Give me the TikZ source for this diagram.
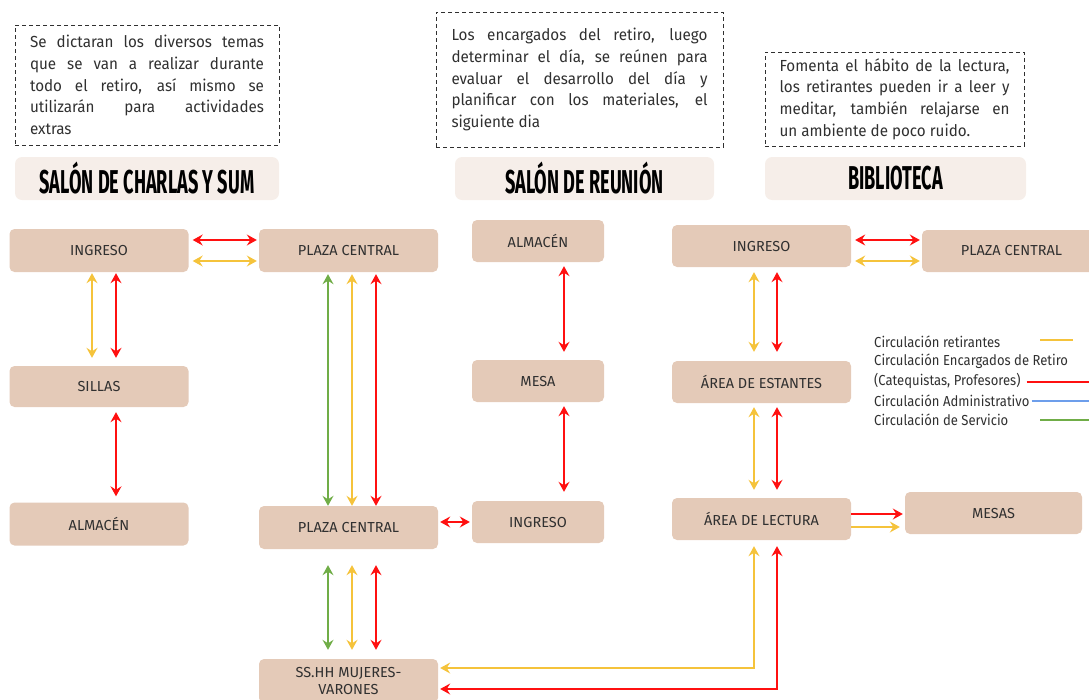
\documentclass[tikz,border=0pt]{standalone}
\usepackage{fontspec}
\setmainfont{Fira Sans}
\newfontfamily\titlefont{Fira Sans}[FakeStretch=0.55]
\newfontfamily\notefont{Fira Sans}[FakeStretch=0.95]
\newfontfamily\legfont{Fira Sans}[FakeStretch=0.9]
\usetikzlibrary{arrows.meta,calc}
\definecolor{nodefill}{HTML}{E4CAB8}
\definecolor{titlefill}{HTML}{F6EEE9}
\definecolor{txt}{HTML}{303030}
\definecolor{cyel}{HTML}{F5C33B}
\definecolor{cred}{HTML}{FF1010}
\definecolor{cgrn}{HTML}{70AD47}
\definecolor{cblu}{HTML}{6D9EEB}
\begin{document}
\begin{tikzpicture}[x=1pt,y=-1pt,
  area/.style={rounded corners=5pt, fill=nodefill, text=txt, font=\fontsize{14.5}{17}\selectfont, minimum height=43pt, minimum width=179pt, inner sep=0pt, align=center},
  titlebox/.style={rounded corners=7pt, fill=titlefill, text=black, font=\titlefont\bfseries\fontsize{33}{34}\selectfont, minimum height=43pt, inner sep=0pt},
  note/.style={draw=txt, dash pattern=on 4pt off 3pt, line width=0.9pt, text=txt, font=\notefont\fontsize{16}{21.8}\selectfont, align=justify, inner ysep=0pt},
  legend/.style={anchor=west, inner sep=0pt, text=txt, font=\legfont\fontsize{14.5}{16}\selectfont},
  tip/.tip={Stealth[length=10pt,width=11pt,inset=3.5pt]},
  flow/.style={line width=1.1pt, tip-tip},
  oneway/.style={line width=1.1pt, -tip},
  sample/.style={line width=2.6pt}
]
\useasboundingbox (0,0) rectangle (1089,699);
\clip (0,0) rectangle (1089,699);

% notes
\node[note, text width=234pt, inner xsep=15pt, minimum height=120pt] (n1) at (147,85)
 {Se dictaran los diversos temas\linebreak que se van a realizar durante\linebreak todo el retiro, así mismo se\linebreak utilizarán para actividades\linebreak extras};
\node[note, text width=256pt, inner xsep=15.5pt, minimum height=135pt] (n2) at (579.5,79.5)
 {Los encargados del retiro, luego\linebreak determinar el día, se reúnen para\linebreak evaluar el desarrollo del día y\linebreak planificar con los materiales, el\linebreak siguiente dia};
\node[note, text width=230pt, inner xsep=14.5pt, minimum height=94pt] (n3) at (894.5,99)
 {Fomenta el hábito de la lectura,\linebreak los retirantes pueden ir a leer y\linebreak meditar, también relajarse en\linebreak un ambiente de poco ruido.};

% titles
\node[titlebox, minimum width=264pt] (t1) at (147,178.5) {SALÓN DE CHARLAS Y SUM};
\node[titlebox, minimum width=259pt] (t2) at (584.5,178.5) {SALÓN DE REUNIÓN};
\node[titlebox, minimum width=261pt] (t3) at (895.5,178.5) {BIBLIOTECA};

% areas
\node[area] (ing1) at (99,250.5) {INGRESO};
\node[area] (pc1) at (348.5,250.5) {PLAZA CENTRAL};
\node[area, minimum height=41pt] (sillas) at (99,386.5) {SILLAS};
\node[area] (alm1) at (99,524) {ALMACÉN};
\node[area] (pc2) at (348.5,527.5) {PLAZA CENTRAL};
\node[area, minimum height=44pt] (sshh) at (348.5,681) {SS.HH MUJERES-\\VARONES};
\node[area, minimum width=132pt, minimum height=42pt] (alm2) at (538,241) {ALMACÉN};
\node[area, minimum width=132pt, minimum height=42pt] (mesa) at (538,381) {MESA};
\node[area, minimum width=132pt, minimum height=42pt] (ing2) at (538,522) {INGRESO};
\node[area, minimum height=42pt] (ing3) at (761.5,246) {INGRESO};
\node[area, minimum height=42pt] (pc3) at (1011.5,251) {PLAZA CENTRAL};
\node[area, minimum height=42pt] (est) at (761.5,382) {ÁREA DE ESTANTES};
\node[area, minimum height=42pt] (lect) at (761.5,519) {ÁREA DE LECTURA};
\node[area, minimum width=177pt, minimum height=42pt] (mesas) at (993.5,513) {MESAS};

% connectors: salon de charlas
\draw[flow, cred] ($(ing1.east)+(4,-10.5)$) -- ($(pc1.west)+(-2,-10.5)$);
\draw[flow, cyel] ($(ing1.east)+(4,10.5)$) -- ($(pc1.west)+(-2,10.5)$);
\draw[flow, cyel] ($(ing1.south)+(-7,1)$) -- ($(sillas.north)+(-7,-8)$);
\draw[flow, cred] ($(ing1.south)+(17,1)$) -- ($(sillas.north)+(17,-8)$);
\draw[flow, cred] ($(sillas.south)+(17,5)$) -- ($(alm1.north)+(17,-6)$);
\draw[flow, cgrn] ($(pc1.south)+(-20.5,2)$) -- ($(pc2.north)+(-20.5,0)$);
\draw[flow, cyel] ($(pc1.south)+(3.5,2)$) -- ($(pc2.north)+(3.5,0)$);
\draw[flow, cred] ($(pc1.south)+(27.5,2)$) -- ($(pc2.north)+(27.5,0)$);
\draw[flow, cgrn] ($(pc2.south)+(-20.5,16)$) -- ($(sshh.north)+(-20.5,-9)$);
\draw[flow, cyel] ($(pc2.south)+(3.5,16)$) -- ($(sshh.north)+(3.5,-9)$);
\draw[flow, cred] ($(pc2.south)+(27.5,16)$) -- ($(sshh.north)+(27.5,-9)$);
\draw[flow, cred] ($(pc2.east |- ing2.west)+(2,0)$) -- ($(ing2.west)+(-2,0)$);

% salon de reunion
\draw[flow, cred] ($(alm2.south)+(26,4)$) -- ($(mesa.north)+(26,-8)$);
\draw[flow, cred] ($(mesa.south)+(26,4)$) -- ($(ing2.north)+(26,-9)$);

% biblioteca
\draw[flow, cred] ($(ing3.east)+(4,-6)$) -- ($(pc3.west |- ing3.east)+(-2,-6)$);
\draw[flow, cyel] ($(ing3.east)+(4,15)$) -- ($(pc3.west |- ing3.east)+(-2,15)$);
\draw[flow, cyel] ($(ing3.south)+(-7.5,5)$) -- ($(est.north)+(-7.5,-9)$);
\draw[flow, cred] ($(ing3.south)+(15.5,5)$) -- ($(est.north)+(15.5,-9)$);
\draw[flow, cyel] ($(est.south)+(-7.5,4)$) -- ($(lect.north)+(-7.5,-8)$);
\draw[flow, cred] ($(est.south)+(15.5,4)$) -- ($(lect.north)+(15.5,-8)$);
\draw[oneway, cred] ($(lect.east)+(0,-5)$) -- ($(mesas.west |- lect.east)+(-2,-5)$);
\draw[oneway, cyel] ($(lect.east)+(0,8)$) -- ($(mesas.west |- lect.east)+(-5,8)$);
\draw[flow, cyel] ($(lect.south)+(-7.5,6)$) |- ($(sshh.east)+(2,-13)$);
\draw[flow, cred] ($(lect.south)+(15.5,6)$) |- ($(sshh.east)+(2,8)$);

% legend
\node[legend] (l1) at (874,342) {Circulación retirantes};
\node[legend] (l2) at (874,361) {Circulación Encargados de Retiro};
\node[legend] (l3) at (874,381) {(Catequistas, Profesores)};
\node[legend] (l4) at (874,401) {Circulación Administrativo};
\node[legend] (l5) at (874,420) {Circulación de Servicio};
\draw[sample, cyel] (1040,340) -- (1073,340);
\draw[sample, cred] ($(l3.east)+(6,1)$) -- (1089,382);
\draw[sample, cblu] ($(l4.east)+(2,0)$) -- (1089,401);
\draw[sample, cgrn] (1040,420) -- (1089,420);
\end{tikzpicture}
\end{document}
